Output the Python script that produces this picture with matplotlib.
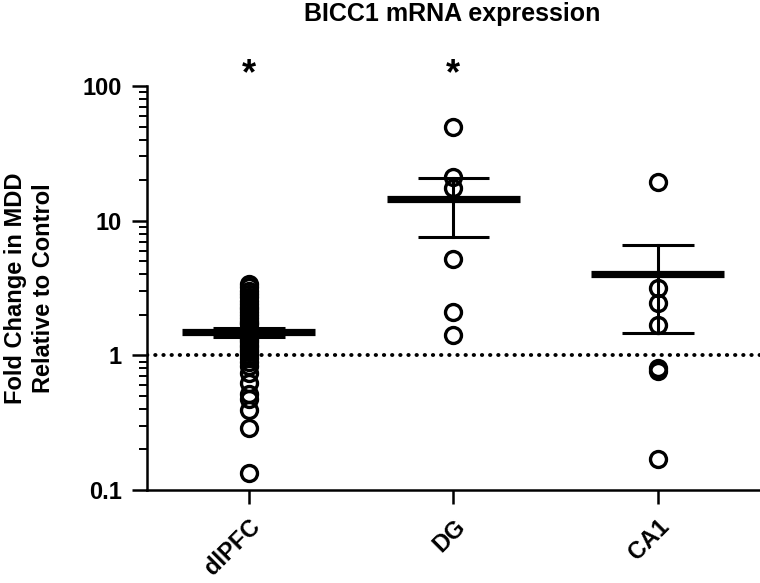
import matplotlib
matplotlib.use("Agg")
import matplotlib.pyplot as plt
from matplotlib.ticker import LogLocator, FixedLocator, NullFormatter
import numpy as np

plt.rcParams['font.family'] = ['Liberation Sans', 'DejaVu Sans']

categories = ["dlPFC", "DG", "CA1"]
dlpfc_vals = [3.4, 3.2, 3.0, 2.85, 2.7, 2.55, 2.4, 2.3, 2.2, 2.1, 2.0, 1.9, 1.8,
              1.75, 1.7, 1.6, 1.55, 1.5, 1.45, 1.4, 1.35, 1.3, 1.25, 1.2, 1.15,
              1.1, 1.05, 1.0, 0.95, 0.9,
              0.84, 0.735, 0.62, 0.52, 0.47, 0.39, 0.29, 0.133]
dg_vals = [49.6, 21.0, 17.4, 5.17, 2.09, 1.41]
ca1_vals = [19.3, 3.15, 2.44, 1.67, 0.81, 0.77, 0.171]
group_vals = [dlpfc_vals, dg_vals, ca1_vals]
means = [1.48, 14.5, 4.0]
sem_low = [1.38, 7.5, 1.46]
sem_high = [1.59, 20.7, 6.6]
significant = [True, True, False]
title = "BICC1 mRNA expression"
ylabel = "Fold Change in MDD\nRelative to Control"

fig = plt.figure(figsize=(7.6, 5.83), dpi=100)
ax = fig.add_axes([0.193, 0.1595, 0.807, 0.693])

ax.set_yscale('log')
ax.set_ylim(0.1, 100)
ax.set_xlim(-0.5, 2.5)

# dotted reference line at 1
ax.axhline(1.0, color='black', linestyle=(0, (0.1, 2.0)), linewidth=2.8,
           dash_capstyle='round', zorder=1)

for i, vals in enumerate(group_vals):
    ax.plot([i] * len(vals), vals, linestyle='none', marker='o', markersize=11.5,
            markerfacecolor='none', markeredgecolor='black', markeredgewidth=2.4, zorder=3)
    # mean line
    ax.plot([i - 0.325, i + 0.325], [means[i], means[i]], color='black',
            linewidth=5.2, solid_capstyle='butt', zorder=4)
    # SEM error bar
    ax.plot([i, i], [sem_low[i], sem_high[i]], color='black', linewidth=2.2, zorder=4)
    for yv in (sem_low[i], sem_high[i]):
        ax.plot([i - 0.175, i + 0.175], [yv, yv], color='black', linewidth=2.2,
                solid_capstyle='butt', zorder=4)
    if significant[i]:
        ax.text(i, 121, "*", ha='center', va='center', fontsize=26,
                fontweight='bold', clip_on=False)

ax.spines['top'].set_visible(False)
ax.spines['right'].set_visible(False)
ax.spines['left'].set_linewidth(1.8)
ax.spines['bottom'].set_linewidth(1.8)

ax.yaxis.set_major_locator(FixedLocator([0.1, 1, 10, 100]))
ax.set_yticklabels(["0.1", "1", "10", "100"])
ax.yaxis.set_minor_locator(LogLocator(base=10, subs=np.arange(2, 10)))
ax.yaxis.set_minor_formatter(NullFormatter())
ax.tick_params(axis='y', which='major', length=11, width=1.8, labelsize=17, pad=7)
ax.tick_params(axis='y', which='minor', length=6, width=1.4)

ax.set_xticks(range(len(categories)))
ax.set_xticklabels(categories, rotation=45, ha='right', rotation_mode='anchor',
                   fontsize=17, fontweight='bold')
ax.tick_params(axis='x', length=10, width=1.8, pad=8)
for lbl in ax.get_yticklabels():
    lbl.set_fontweight('bold')

fig.text(0.039, 0.505, ylabel, rotation=90, ha='center', va='center',
         multialignment='center', fontsize=17, fontweight='bold', linespacing=1.3)
fig.text(0.595, 0.976, title, ha='center', va='center', fontsize=18, fontweight='bold')

fig.savefig("out.png", dpi=100)
